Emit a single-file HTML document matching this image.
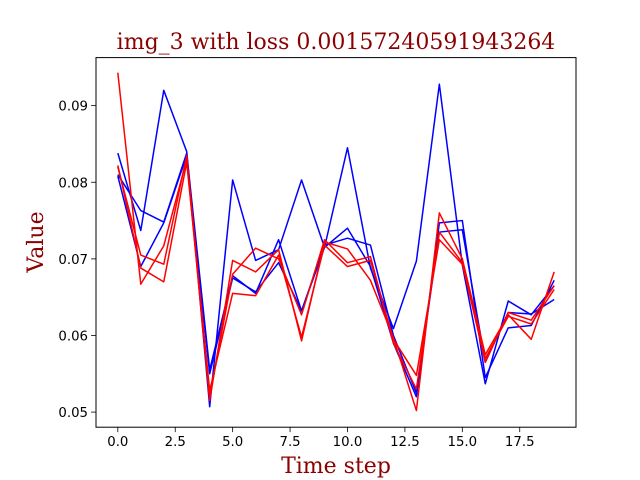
<!DOCTYPE html>
<html><head><meta charset="utf-8"><style>
body{margin:0;background:#fff}
svg{display:block}
</style></head><body>
<svg id="chart" width="640" height="480" xmlns="http://www.w3.org/2000/svg">
<rect x="0" y="0" width="640" height="480" fill="#fff"/>
<text x="336" y="49" text-anchor="middle" font-family="'DejaVu Serif','Liberation Serif',serif" font-size="22" fill="#8b0000">img_3 with loss 0.00157240591943264</text>
<text x="336" y="473" text-anchor="middle" font-family="'DejaVu Serif','Liberation Serif',serif" font-size="22" fill="#8b0000">Time step</text>
<text transform="translate(43,242) rotate(-90)" text-anchor="middle" font-family="'DejaVu Serif','Liberation Serif',serif" font-size="22" fill="#8b0000">Value</text>
<g id="plot"></g>
<rect x="96" y="57.6" width="480" height="369.6" fill="none" stroke="#000" stroke-width="1"/>
</svg>
<script>
const xTicks=[0,2.5,5,7.5,10,12.5,15,17.5];
const xTickLabels=["0.0","2.5","5.0","7.5","10.0","12.5","15.0","17.5"];
const yTicks=[0.05,0.06,0.07,0.08,0.09];
const yTickLabels=["0.05","0.06","0.07","0.08","0.09"];
const blue1=[0.0838,0.0737,0.0920,0.0840,0.0507,0.0803,0.0698,0.0712,0.0803,0.0715,0.0845,0.0688,0.0609,0.0697,0.0928,0.0692,0.0537,0.0645,0.0627,0.0665];
const blue2=[0.0810,0.0763,0.0748,0.0838,0.0555,0.0678,0.0655,0.0725,0.0632,0.0715,0.0740,0.0690,0.0590,0.0520,0.0747,0.0750,0.0545,0.0610,0.0613,0.0672];
const blue3=[0.0808,0.0690,0.0747,0.0835,0.0550,0.0675,0.0657,0.0695,0.0632,0.0718,0.0727,0.0718,0.0600,0.0525,0.0735,0.0738,0.0565,0.0630,0.0628,0.0647];
const red1=[0.0943,0.0667,0.0717,0.0830,0.0515,0.0698,0.0683,0.0712,0.0593,0.0722,0.0713,0.0672,0.0597,0.0502,0.0760,0.0700,0.0575,0.0627,0.0595,0.0683];
const red2=[0.0822,0.0688,0.0670,0.0826,0.0528,0.0655,0.0652,0.0705,0.0598,0.0718,0.0690,0.0698,0.0595,0.0548,0.0725,0.0693,0.0570,0.0625,0.0615,0.0660];
const red3=[0.0820,0.0705,0.0693,0.0835,0.0520,0.0680,0.0714,0.0700,0.0627,0.0725,0.0695,0.0703,0.0590,0.0530,0.0735,0.0695,0.0565,0.0630,0.0620,0.0665];

const L=96,R=576,T=57.6,B=427.2;
const xMin=-0.95,xMax=19.95,yMin=0.04803,yMax=0.09627;
function xs(v){return L+(v-xMin)/(xMax-xMin)*(R-L);}
function ys(v){return B-(v-yMin)/(yMax-yMin)*(B-T);}
const NS="http://www.w3.org/2000/svg";
const g=document.getElementById('plot');
function mk(tag,attrs){const e=document.createElementNS(NS,tag);for(const k in attrs)e.setAttribute(k,attrs[k]);return e;}
xTicks.forEach((t,i)=>{
  const x=xs(t);
  const ln=mk('line',{x1:x,x2:x,y1:B,y2:B+4.9,stroke:'#000','stroke-width':0.8});
  
  
  g.appendChild(ln);
  const tx=mk('text',{x:x,y:B+19,'text-anchor':'middle','font-family':"'DejaVu Sans','Liberation Sans',sans-serif",'font-size':13.3,fill:'#000'});
  tx.textContent=xTickLabels[i];
  
  
  g.appendChild(tx);
});
yTicks.forEach((t,i)=>{
  const y=ys(t);
  const ln=mk('line',{x1:L-4.9,x2:L,y1:y,y2:y,stroke:'#000','stroke-width':0.8});
  
  
  g.appendChild(ln);
  const tx=mk('text',{x:L-8,y:y+5,'text-anchor':'end','font-family':"'DejaVu Sans','Liberation Sans',sans-serif",'font-size':13.3,fill:'#000'});
  tx.textContent=yTickLabels[i];
  
  
  g.appendChild(tx);
});
const series=[[blue1,'blue','blue-series-1'],[blue2,'blue','blue-series-2'],[blue3,'blue','blue-series-3'],[red1,'red','red-series-1'],[red2,'red','red-series-2'],[red3,'red','red-series-3']];
series.forEach(s=>{
  const pts=s[0].map((v,i)=>xs(i).toFixed(2)+','+ys(v).toFixed(2)).join(' ');
  const pl=mk('polyline',{points:pts,fill:'none',stroke:s[1],'stroke-width':1.5,'stroke-linejoin':'round'});
  
  
  g.appendChild(pl);
});
</script>
</body></html>
